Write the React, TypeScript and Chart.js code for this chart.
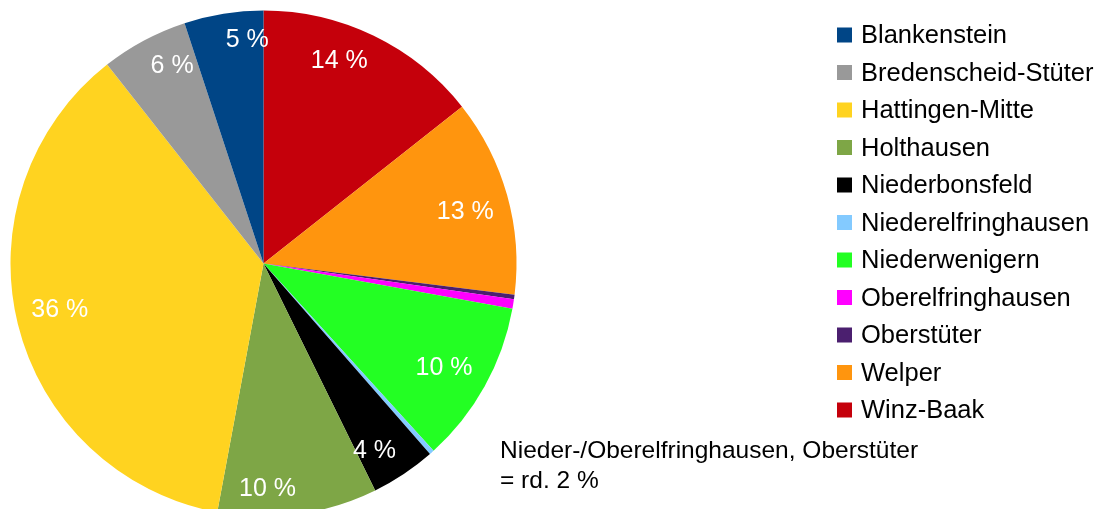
import React, { useEffect, useRef } from "react";
import { Chart, registerables } from "chart.js";

Chart.register(...registerables);

// Legend order (as listed in the legend)
const categories = [
  "Blankenstein",
  "Bredenscheid-Stüter",
  "Hattingen-Mitte",
  "Holthausen",
  "Niederbonsfeld",
  "Niederelfringhausen",
  "Niederwenigern",
  "Oberelfringhausen",
  "Oberstüter",
  "Welper",
  "Winz-Baak",
];
const shares = [5.05, 5.55, 36.45, 10.2, 4.15, 0.3, 10.4, 0.6, 0.3, 12.6, 14.35];
const colors = [
  "#004586",
  "#999999",
  "#ffd320",
  "#7ea646",
  "#000000",
  "#83caff",
  "#23ff23",
  "#ff00ff",
  "#4b1f6f",
  "#ff950e",
  "#c5000b",
];
const noteLines = ["Nieder-/Oberelfringhausen, Oberstüter", "= rd. 2 %"];

const FONT = '"Liberation Sans", Arial, sans-serif';

export default function App() {
  const ref = useRef<HTMLCanvasElement | null>(null);

  useEffect(() => {
    if (!ref.current) return;
    // pie draws clockwise from the top in reverse legend order
    const pieLabels = [...categories].reverse();
    const pieData = [...shares].reverse();
    const pieColors = [...colors].reverse();

    const labelPlugin = {
      id: "sliceLabels",
      afterDatasetsDraw(chart: any) {
        const ctx = chart.ctx;
        const meta = chart.getDatasetMeta(0);
        ctx.save();
        ctx.font = `25px ${FONT}`;
        ctx.fillStyle = "#ffffff";
        ctx.textAlign = "center";
        ctx.textBaseline = "middle";
        meta.data.forEach((arc: any, i: number) => {
          const v = pieData[i];
          if (v < 1) return;
          const text = `${Math.round(v)} %`;
          const w = ctx.measureText(text).width;
          const h = 24;
          const a = (arc.startAngle + arc.endAngle) / 2;
          const r = arc.outerRadius * 0.945;
          const px = arc.x + Math.cos(a) * r;
          const py = arc.y + Math.sin(a) * r;
          // label box sits inside the slice with its outer corner on the anchor
          const cx = px + (Math.cos(a) > 0 ? -w / 2 : w / 2);
          const cy = py + (Math.sin(a) < 0 ? h / 2 : -h / 2);
          ctx.fillText(text, cx, cy + 1);
        });
        ctx.restore();
      },
    };

    const legendPlugin = {
      id: "customLegend",
      afterDraw(chart: any) {
        const ctx = chart.ctx;
        ctx.save();
        ctx.font = `25.5px ${FONT}`;
        ctx.textAlign = "left";
        ctx.textBaseline = "middle";
        categories.forEach((name, i) => {
          const cy = 35 + i * 37.5;
          ctx.fillStyle = colors[i];
          ctx.fillRect(837, cy - 7.5, 15, 15);
          ctx.fillStyle = "#000000";
          ctx.fillText(name, 861, cy + 1);
        });
        ctx.font = `24.5px ${FONT}`;
        noteLines.forEach((line, i) => {
          ctx.fillText(line, 500, 451 + i * 30);
        });
        ctx.restore();
      },
    };

    const chart = new Chart(ref.current, {
      type: "pie",
      data: {
        labels: pieLabels,
        datasets: [
          {
            data: pieData,
            backgroundColor: pieColors,
            borderWidth: 0,
            radius: 253,
          } as any,
        ],
      },
      options: {
        animation: false,
        responsive: false,
        devicePixelRatio: 1,
        layout: { padding: { left: 10, top: 18, right: 581, bottom: 0 } },
        plugins: {
          legend: { display: false },
          title: { display: false },
          tooltip: { enabled: false },
        },
      },
      plugins: [labelPlugin, legendPlugin],
    });
    return () => chart.destroy();
  }, []);

  return (
    <div style={{ position: "fixed", left: 0, top: 0, width: 1098, height: 509, background: "#fff" }}>
      <canvas ref={ref} width={1098} height={509} style={{ display: "block" }} />
    </div>
  );
}
